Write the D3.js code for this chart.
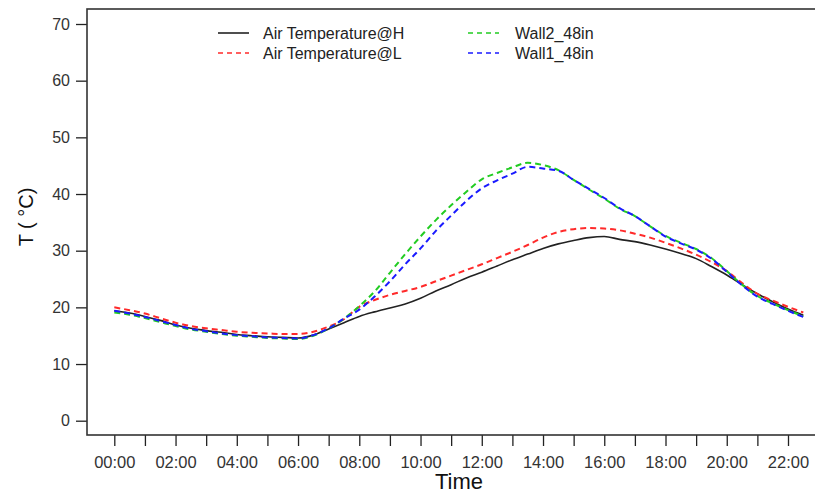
<!DOCTYPE html>
<html>
<head>
<meta charset="utf-8">
<script src="https://cdn.jsdelivr.net/npm/d3@7/dist/d3.min.js"></script>
<style>
  html, body { margin: 0; padding: 0; background: #fff; }
  svg { display: block; font-family: "Liberation Sans", Arial, sans-serif; }
</style>
</head>
<body>
<svg id="chart" width="815" height="495"></svg>
<script>
// Hours of day (every 30 minutes)
const hours = [0,0.5,1,1.5,2,2.5,3,3.5,4,4.5,5,5.5,6,6.5,7,7.5,8,8.5,9,9.5,10,10.5,11,11.5,12,12.5,13,13.5,14,14.5,15,15.5,16,16.5,17,17.5,18,18.5,19,19.5,20,20.5,21,21.5,22,22.5];

const airH = [19.4,19.0,18.4,17.7,16.9,16.3,15.9,15.6,15.2,15.0,14.8,14.7,14.6,15.1,16.2,17.3,18.4,19.2,19.9,20.6,21.6,22.9,24.0,25.2,26.2,27.3,28.4,29.4,30.4,31.2,31.8,32.3,32.5,32.0,31.6,31.0,30.3,29.5,28.6,27.2,25.7,24.0,22.4,21.0,19.7,18.6];

const airL = [20.0,19.5,18.9,18.1,17.3,16.7,16.3,16.0,15.7,15.5,15.4,15.3,15.3,15.7,16.6,17.9,20.1,21.3,22.2,22.9,23.6,24.6,25.6,26.6,27.6,28.7,29.8,31.0,32.3,33.3,33.8,34.0,33.9,33.6,33.0,32.3,31.4,30.4,29.3,28.0,26.4,24.3,22.4,21.2,20.1,19.1];

const wall2 = [19.1,18.7,18.1,17.4,16.7,16.1,15.7,15.3,15.0,14.8,14.6,14.5,14.4,15.0,16.3,18.0,20.2,22.8,26.1,29.4,32.5,35.4,38.0,40.4,42.6,43.7,44.7,45.5,45.1,44.2,42.5,40.8,39.2,37.4,36.1,34.3,32.6,31.4,30.3,28.7,26.4,24.0,22.0,20.7,19.5,18.4];

const wall1 = [19.4,18.9,18.3,17.6,16.9,16.2,15.8,15.4,15.1,14.9,14.7,14.6,14.5,15.1,16.3,18.0,19.6,21.9,24.6,27.6,30.4,33.5,36.2,38.8,41.0,42.4,43.6,44.8,44.5,44.1,42.5,40.9,39.3,37.5,36.1,34.3,32.5,31.3,30.2,28.6,26.3,23.9,21.9,20.6,19.4,18.3];

const yTicks = [0,10,20,30,40,50,60,70];
const xTickHours = [0,1,2,3,4,5,6,7,8,9,10,11,12,13,14,15,16,17,18,19,20,21,22,23];
const xTickLabels = ["00:00","","02:00","","04:00","","06:00","","08:00","","10:00","","12:00","","14:00","","16:00","","18:00","","20:00","","22:00",""];

const seriesNames = ["Air Temperature@H","Air Temperature@L","Wall2_48in","Wall1_48in"];
const seriesColors = ["#222222","#ff2a2a","#22cc22","#1a1aff"];

const series = [
  {name: seriesNames[0], values: airH, color: seriesColors[0], dash: null},
  {name: seriesNames[1], values: airL, color: seriesColors[1], dash: "6,4"},
  {name: seriesNames[2], values: wall2, color: seriesColors[2], dash: "6,4"},
  {name: seriesNames[3], values: wall1, color: seriesColors[3], dash: "6,4"}
];

const svg = d3.select("#chart");

const box = {left: 87, top: 9, bottom: 435, right: 840};

const x = d3.scaleLinear().domain([0, 22]).range([114.3, 788]);
const y = d3.scaleLinear().domain([0, 70]).range([420.7, 24]);

// Axes
const yAxis = d3.axisLeft(y).tickValues(yTicks).tickSize(11).tickPadding(6);
const gy = svg.append("g").attr("transform", `translate(${box.left},0)`).call(yAxis);
gy.select(".domain").remove();
gy.selectAll("line").attr("stroke", "#222").attr("stroke-width", 1.3);
gy.selectAll("text").attr("font-size", 16).attr("fill", "#333");

const xAxis = d3.axisBottom(x).tickValues(xTickHours).tickSize(11).tickPadding(10)
  .tickFormat((d, i) => xTickLabels[i]);
const gx = svg.append("g").attr("transform", `translate(0,${box.bottom})`).call(xAxis);
gx.select(".domain").remove();
gx.selectAll("line").attr("stroke", "#222").attr("stroke-width", 1.3);
gx.selectAll("text").attr("font-size", 16.5).attr("fill", "#333");

// Plot box
svg.append("rect")
  .attr("x", box.left).attr("y", box.top)
  .attr("width", box.right - box.left).attr("height", box.bottom - box.top)
  .attr("fill", "none").attr("stroke", "#333").attr("stroke-width", 1.6);

// Lines
const line = d3.line().x((d, i) => x(hours[i])).y(d => y(d)).curve(d3.curveMonotoneX);
series.forEach(s => {
  svg.append("path")
    .datum(s.values)
    .attr("d", line)
    .attr("fill", "none")
    .attr("stroke", s.color)
    .attr("stroke-width", s.dash ? 2 : 1.6)
    .attr("stroke-dasharray", s.dash);
});

// Legend
const legendPos = [
  {lx: 218, ly: 33, tx: 263},
  {lx: 218, ly: 53, tx: 263},
  {lx: 468, ly: 33, tx: 515},
  {lx: 468, ly: 53, tx: 515}
];
series.forEach((s, i) => {
  const p = legendPos[i];
  svg.append("line")
    .attr("x1", p.lx).attr("x2", p.lx + 31)
    .attr("y1", p.ly).attr("y2", p.ly)
    .attr("stroke", s.color)
    .attr("stroke-width", 1.6)
    .attr("stroke-dasharray", s.dash ? "5,4" : null);
  svg.append("text")
    .attr("x", p.tx).attr("y", p.ly + 5.5)
    .attr("font-size", 16).attr("fill", "#222")
    .text(s.name);
});

// Axis titles
svg.append("text")
  .attr("x", 459).attr("y", 489)
  .attr("text-anchor", "middle")
  .attr("font-size", 22).attr("fill", "#111")
  .text("Time");

svg.append("text")
  .attr("transform", "translate(33,217) rotate(-90)")
  .attr("text-anchor", "middle")
  .attr("font-size", 20).attr("fill", "#111")
  .text("T ( °C)");
</script>
</body>
</html>
